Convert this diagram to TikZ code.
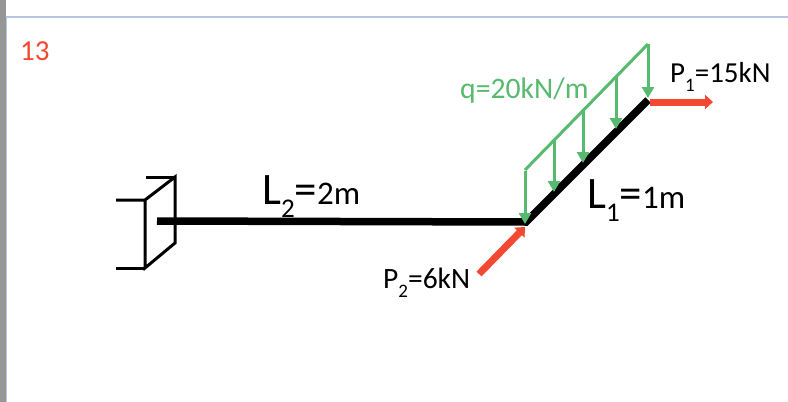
\documentclass[tikz,border=0pt]{standalone}
\usepackage{fontspec}
\setmainfont{Carlito}
\usetikzlibrary{arrows.meta}
\definecolor{grn}{RGB}{87,186,110}
\definecolor{rd}{RGB}{243,72,50}
\definecolor{frameblue}{RGB}{184,198,228}
\definecolor{sidebar}{RGB}{150,150,150}
\tikzset{
 x=1pt,y=-1pt,
 wall/.style={line width=3pt,black},
 beam/.style={line width=7.5pt,black,line cap=butt},
 load/.style={line width=3pt,grn},
 loadarrow/.style={line width=3pt,grn,-{Triangle[length=11pt,width=12pt]}},
 force/.style={line width=7pt,rd,-{Triangle[length=8pt,width=14pt]}},
 lbl/.style={inner sep=0pt,text=black,anchor=base west},
}
\newcommand{\fsz}[1]{\fontsize{#1}{#1}\selectfont}
\newcommand{\subnum}[3]{\raisebox{-#1pt}{\fsz{#2}#3}}
\begin{document}
\begin{tikzpicture}
\useasboundingbox (0,0) rectangle (788,402);
\fill[white] (0,0) rectangle (788,402);
\fill[sidebar] (0,0) rectangle (6,402);
\draw[frameblue,line width=2pt] (6,17) -- (788,17);
\draw[frameblue,line width=1pt] (6.5,17) -- (6.5,402);
\node[inner sep=0pt,text=rd,anchor=base west] (num) at (20,60) {\fsz{29}13};

\coordinate (wa) at (145,200);
\coordinate (wb) at (175,177);
\coordinate (wc) at (175,243);
\coordinate (wd) at (145,268);
\coordinate (we) at (116,200);
\coordinate (wf) at (116,268);
\coordinate (wg) at (146,177);
\draw[wall,line join=miter] (we) -- (wa) -- (wb) -- (wc) -- (wd) -- (wa);
\draw[wall] (wf) -- (wd);
\draw[wall] (wg) -- (wb);

\coordinate (b0) at (157,221);
\coordinate (b1) at (526,222);
\coordinate (b2) at (648,100);
\draw[beam,line join=miter] (b0) -- (b1) -- (b2);

\coordinate (q0) at (525,170);
\coordinate (q1) at (648,44);
\draw[load] (q0) -- (q1);
\coordinate (a1s) at (525,171); \coordinate (a1e) at (525,224);
\coordinate (a2s) at (554,140); \coordinate (a2e) at (554,192);
\coordinate (a3s) at (583,110); \coordinate (a3e) at (583,163);
\coordinate (a4s) at (616,77);  \coordinate (a4e) at (616,129);
\coordinate (a5s) at (648,44);  \coordinate (a5e) at (648,98);
\foreach \i in {1,...,5} \draw[loadarrow] (a\i s) -- (a\i e);

\coordinate (p1s) at (650,102); \coordinate (p1e) at (713,102);
\draw[force] (p1s) -- (p1e);
\coordinate (p2s) at (479,274); \coordinate (p2e) at (525,227);
\draw[force] (p2s) -- (p2e);

\node[inner sep=0pt,text=grn,anchor=base west] (ql) at (460,98) {\fsz{29.7}q=20kN/m};
\node[lbl] (p1) at (670,82) {\fsz{29}P\subnum{9}{19}{1}=15kN};
\node[lbl] (p2) at (383,288) {\fsz{29.5}P\subnum{9}{19}{2}=6kN};
\node[lbl] (l2) at (262,204) {\fsz{45}L\subnum{13}{27}{2}=\fsz{33}2m};
\node[lbl] (l1) at (587,208) {\fsz{45}L\subnum{13}{27}{1}=\fsz{33}1m};
\end{tikzpicture}
\end{document}
